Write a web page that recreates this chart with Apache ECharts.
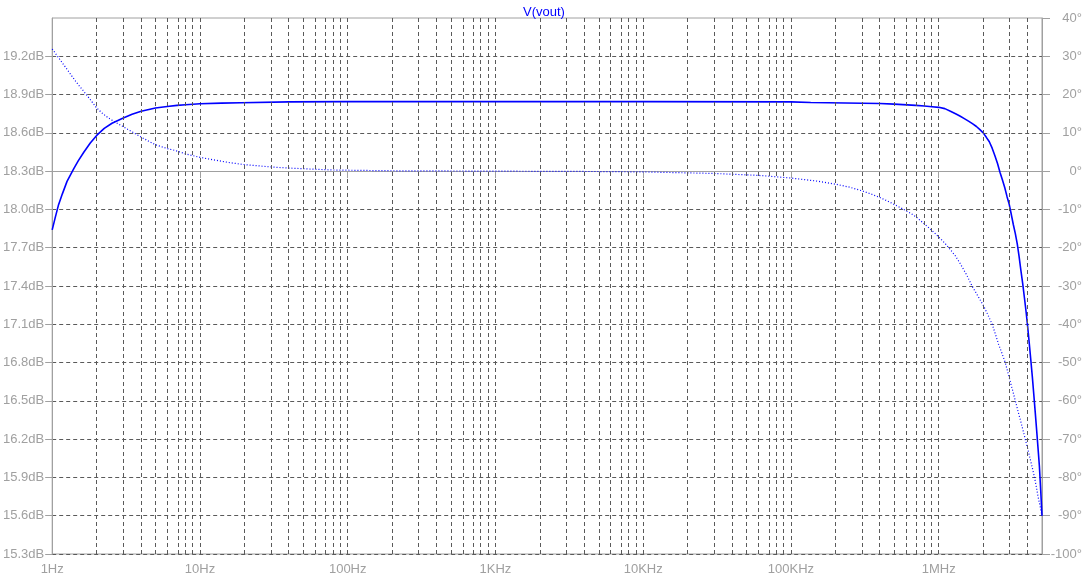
<!DOCTYPE html>
<html>
<head>
<meta charset="utf-8">
<script src="https://cdn.jsdelivr.net/npm/echarts@6/dist/echarts.min.js"></script>
<style>html,body{margin:0;padding:0;background:#fff}#c{width:1088px;height:580px}</style>
</head>
<body>
<div id="c"></div>
<script>
// Magnitude of V(vout) (dB) vs frequency (Hz)
const magFreqHz = [1, 1.05, 1.1, 1.17, 1.26, 1.4, 1.5, 1.64, 1.81, 2, 2.25, 2.54, 3, 3.47, 4, 5, 6, 7, 8, 10, 14, 19, 40, 100, 1000, 10000, 100000, 136000, 400000, 500000, 700000, 800000, 900000, 1000000, 1100000, 1200000, 1300000, 1400000, 1500000, 1600000, 1700000, 1800000, 1900000, 2000000, 2100000, 2200000, 2300000, 2400000, 2500000, 2600000, 2700000, 2800000, 2900000, 3000000, 3100000, 3200000, 3300000, 3400000, 3500000, 3600000, 3700000, 3800000, 3900000, 4000000, 4100000, 4200000, 4300000, 4400000, 4500000, 4600000, 4700000, 4800000, 4900000, 5000000];
const magDb = [17.84, 17.94, 18.03, 18.12, 18.22, 18.32, 18.38, 18.45, 18.52, 18.58, 18.635, 18.675, 18.715, 18.745, 18.77, 18.795, 18.807, 18.815, 18.82, 18.828, 18.833, 18.836, 18.843, 18.845, 18.845, 18.845, 18.843, 18.838, 18.83, 18.825, 18.815, 18.81, 18.805, 18.80, 18.79, 18.77, 18.75, 18.73, 18.71, 18.69, 18.67, 18.65, 18.625, 18.60, 18.565, 18.53, 18.48, 18.42, 18.36, 18.29, 18.23, 18.17, 18.10, 18.04, 17.96, 17.88, 17.81, 17.73, 17.63, 17.52, 17.42, 17.31, 17.20, 17.08, 16.95, 16.82, 16.69, 16.55, 16.41, 16.27, 16.13, 15.99, 15.80, 15.60];
// Phase of V(vout) (degrees) vs frequency (Hz)
const phaseFreqHz = [1, 1.05, 1.17, 1.26, 1.36, 1.5, 1.6, 1.8, 2, 2.2, 2.4, 2.7, 3, 3.5, 4, 4.5, 5, 6, 6.8, 8, 10, 13, 16, 20, 30, 40, 60, 80, 120, 200, 1000, 5000, 10000, 30000, 60000, 100000, 150000, 200000, 250000, 300000, 350000, 400000, 450000, 500000, 580000, 650000, 700000, 800000, 900000, 1000000, 1100000, 1170000, 1300000, 1410000, 1550000, 1680000, 1840000, 2000000, 2150000, 2300000, 2420000, 2540000, 2680000, 2820000, 2940000, 3050000, 3170000, 3300000, 3430000, 3570000, 3710000, 3850000, 4000000, 4150000, 4300000, 4450000, 4580000, 4700000, 4860000, 5000000];
const phaseDeg = [31.9, 30.8, 28.3, 26.6, 24.8, 22.6, 21.3, 18.8, 16.5, 15.0, 13.9, 12.7, 11.7, 10.2, 8.9, 7.8, 6.9, 5.9, 5.4, 4.5, 3.6, 2.8, 2.2, 1.7, 1.1, 0.8, 0.5, 0.3, 0.2, 0.1, 0.0, -0.1, -0.2, -0.6, -1.1, -1.8, -2.6, -3.4, -4.2, -5.1, -6.0, -6.9, -7.8, -8.7, -10.0, -11.1, -11.9, -13.8, -15.5, -17.2, -18.8, -20.0, -22.2, -24.4, -27.2, -30.0, -32.6, -35.0, -37.5, -40.0, -42.6, -45.2, -47.6, -50.0, -52.6, -55.0, -57.4, -60.0, -62.5, -65.0, -67.5, -70.0, -72.5, -75.0, -77.5, -80.0, -82.5, -85.0, -87.6, -90.0];
// Axis labels
const xTickHz = [1, 10, 100, 1000, 10000, 100000, 1000000];
const xTickLabels = ['1Hz', '10Hz', '100Hz', '1KHz', '10KHz', '100KHz', '1MHz'];
const minorGridHz = [2,3,4,5,6,7,8,9,20,30,40,50,60,70,80,90,200,300,400,500,600,700,800,900,2000,3000,4000,5000,6000,7000,8000,9000,20000,30000,40000,50000,60000,70000,80000,90000,200000,300000,400000,500000,600000,700000,800000,900000,2000000,3000000,4000000];
const dbMin = 15.3, dbMax = 19.5, dbStep = 0.3;
const degMin = -100, degMax = 40, degStep = 10;
const fMaxHz = 5000000;

const L = Math.log10;
const gridColor = '#5a5a5a';
const axisColor = '#a0a0a0';
const font = 'Liberation Sans, Arial, sans-serif';
const leftTicks = [];
for (let i = 0; i < 14; i++) leftTicks.push(+(dbMin + i * dbStep).toFixed(1));

const chart = echarts.init(document.getElementById('c'), null, {renderer: 'canvas'});
chart.setOption({
  animation: false,
  backgroundColor: '#ffffff',
  title: {
    text: 'V(vout)', left: 'center', top: 1,
    textStyle: {color: '#0000ff', fontSize: 13, fontWeight: 'normal', fontFamily: font}
  },
  grid: {left: 50, right: 46, top: 18, bottom: 26, show: true, borderColor: axisColor, borderWidth: 1, backgroundColor: 'transparent'},
  xAxis: {
    type: 'value', min: 0, max: L(fMaxHz), interval: 1,
    axisLine: {show: true, lineStyle: {color: axisColor}},
    axisTick: {show: true, length: 7, lineStyle: {color: axisColor}, customValues: xTickHz.map(L)},
    axisLabel: {
      color: axisColor, fontSize: 13, fontFamily: font, margin: 9,
      customValues: xTickHz.map(L),
      formatter: v => { const i = Math.round(v); return Math.abs(v - i) < 1e-6 && i < xTickLabels.length ? xTickLabels[i] : ''; }
    },
    splitLine: {show: true, lineStyle: {color: gridColor, type: [4, 3], width: 1}}
  },
  yAxis: [{
    type: 'value', position: 'left', min: dbMin, max: dbMax, interval: dbStep,
    axisLine: {show: true, lineStyle: {color: axisColor}},
    axisTick: {show: true, length: 7, lineStyle: {color: axisColor}, customValues: leftTicks},
    axisLabel: {color: axisColor, fontSize: 13, fontFamily: font, margin: 8, customValues: leftTicks,
      formatter: v => v.toFixed(1) + 'dB'},
    splitLine: {show: true, lineStyle: {color: gridColor, type: [4, 3], width: 1}}
  }, {
    type: 'value', position: 'right', min: degMin, max: degMax, interval: degStep,
    axisLine: {show: true, lineStyle: {color: axisColor}},
    axisTick: {show: true, length: 8, lineStyle: {color: axisColor}},
    axisLabel: {color: axisColor, fontSize: 13, fontFamily: font, margin: 40, align: 'right',
      formatter: v => v + '°'},
    splitLine: {show: false}
  }],
  series: [{
    name: 'minor', type: 'line', data: [], silent: true, z: 1,
    markLine: {
      silent: true, symbol: ['none', 'none'], animation: false,
      label: {show: false},
      lineStyle: {color: gridColor, type: [4, 3], width: 1},
      emphasis: {disabled: true},
      data: minorGridHz.map(f => ({xAxis: L(f)}))
    }
  }, {
    name: 'V(vout) dB', type: 'line', yAxisIndex: 0, z: 3,
    data: magFreqHz.map((f, i) => [L(f), magDb[i]]),
    showSymbol: false, smooth: false,
    lineStyle: {color: '#0000ff', width: 1.6}
  }, {
    name: 'V(vout) phase', type: 'line', yAxisIndex: 1, z: 3,
    data: phaseFreqHz.map((f, i) => [L(f), phaseDeg[i]]),
    showSymbol: false, smooth: false,
    lineStyle: {color: '#0000ff', width: 1.2, type: [1, 2]}
  }]
});
</script>
</body>
</html>
